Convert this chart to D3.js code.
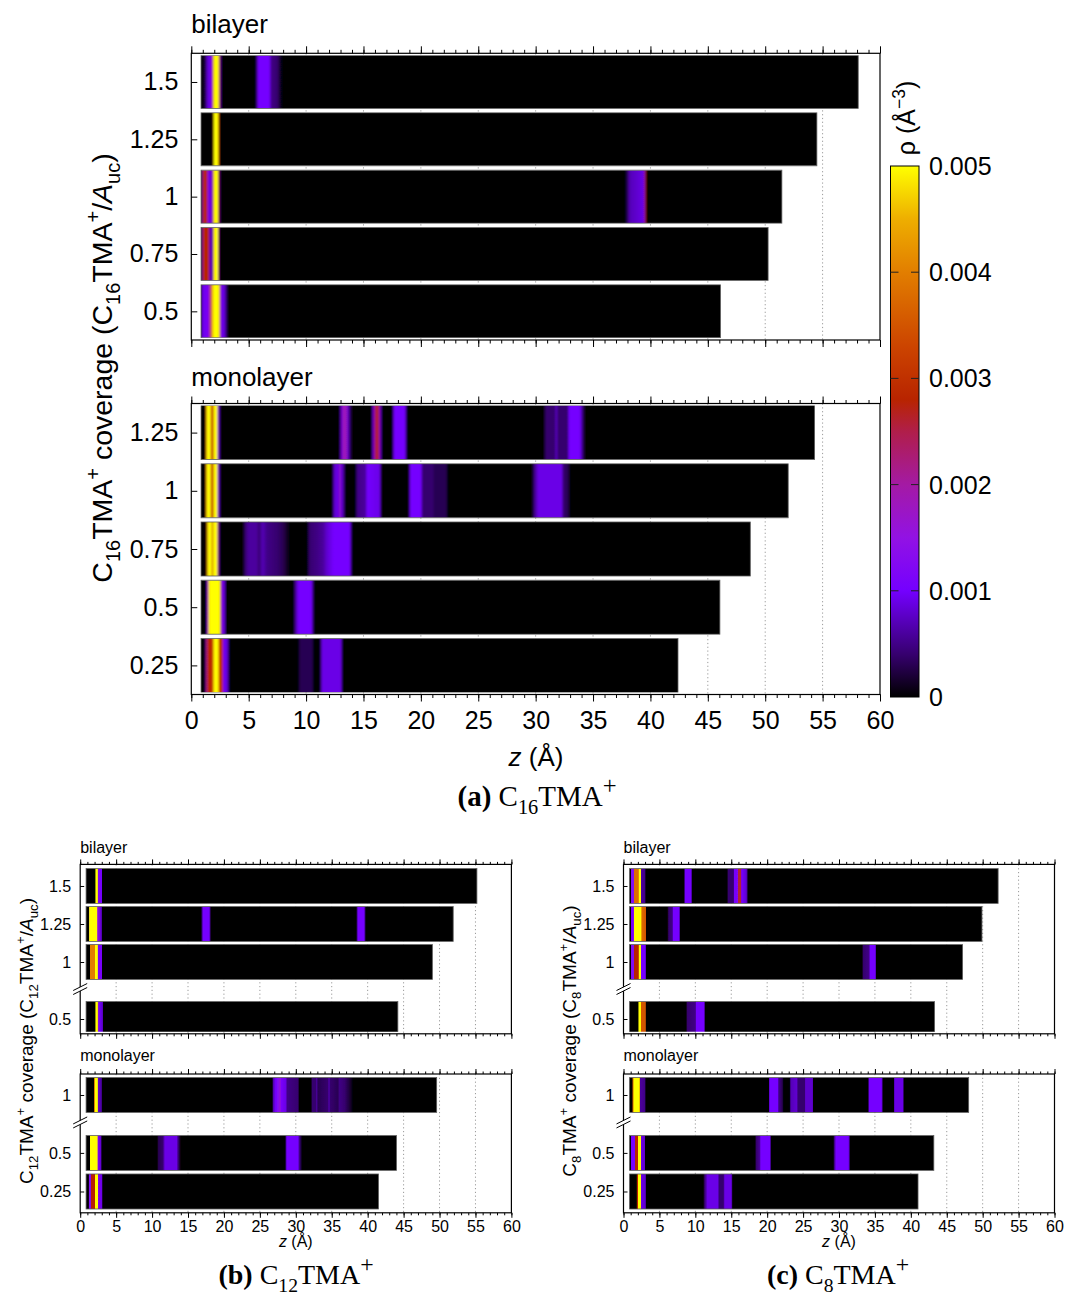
<!DOCTYPE html>
<html>
<head>
<meta charset="utf-8">
<script src="https://cdn.jsdelivr.net/npm/d3@7"></script>
<style>
  body { margin: 0; background: #fff; }
  svg { display: block; }
  text { font-family: "Liberation Sans", Arial, sans-serif; white-space: pre; }
</style>
</head>
<body>
<script>
// ---- data: density profiles rho(z), read as [z (Å), rho (Å^-3)] control points ----
const zTicks = [0, 5, 10, 15, 20, 25, 30, 35, 40, 45, 50, 55, 60];
const rhoTicks = [0, 0.001, 0.002, 0.003, 0.004, 0.005];

// C16TMA+ bilayer
const c16BiCov = ["1.5", "1.25", "1", "0.75", "0.5"];
const c16BiEnd = [58.1, 54.5, 51.45, 50.25, 46.1];
const c16BiProf = [
  [[0.85,0],[1.2,0.0002],[1.4,0.0008],[1.75,0.001],[1.9,0.003],[1.97,0.005],[2.35,0.005],[2.42,0.003],[2.5,0.001],[2.6,0],
   [5.6,0],[5.85,0.001],[6.8,0.001],[6.95,0.0005],[7.5,0.0004],[7.9,0]],
  [[0.85,0],[1.9,0],[1.97,0.004],[2.02,0.005],[2.32,0.005],[2.38,0.003],[2.45,0]],
  [[0.85,0],[0.95,0.0008],[1.05,0.0028],[1.35,0.0028],[1.45,0.0012],[1.8,0.0008],[1.95,0.004],[2.0,0.005],[2.3,0.005],[2.35,0.003],[2.42,0.0008],[2.5,0],
   [37.8,0],[38.2,0.0007],[39.4,0.0009],[39.55,0.0026],[39.65,0]],
  [[0.85,0],[0.95,0.0008],[1.05,0.0028],[1.5,0.0028],[1.6,0.0008],[1.85,0.0006],[1.95,0.004],[2.0,0.005],[2.3,0.005],[2.35,0.002],[2.45,0]],
  [[0.85,0],[0.95,0.0009],[1.45,0.0011],[1.6,0.002],[1.8,0.004],[1.95,0.005],[2.4,0.005],[2.5,0.0025],[2.6,0.001],[2.9,0.0008],[3.2,0]]
];

// C16TMA+ monolayer
const c16MonoCov = ["1.25", "1", "0.75", "0.5", "0.25"];
const c16MonoEnd = [54.3, 52.0, 48.7, 46.05, 42.4];
const c16MonoProf = [
  [[0.85,0],[1.25,0],[1.32,0.004],[1.36,0.005],[1.66,0.005],[1.72,0.003],[1.9,0.0028],[1.96,0.005],[2.26,0.005],[2.3,0.0012],[2.42,0.0008],[2.5,0],
   [12.9,0],[13.05,0.0008],[13.25,0.0018],[13.5,0.0018],[13.65,0.0008],[13.85,0.0003],[14.0,0],
   [15.7,0],[15.85,0.0009],[16.05,0.0025],[16.3,0.0026],[16.45,0.001],[16.6,0],
   [17.5,0],[17.7,0.001],[18.6,0.001],[18.8,0],
   [30.7,0],[30.9,0.0004],[31.7,0.0004],[31.8,0.0009],[31.9,0.0004],[32.8,0.0004],[32.9,0.001],[33.85,0.001],[34.3,0]],
  [[0.85,0],[1.25,0],[1.32,0.004],[1.36,0.005],[1.66,0.005],[1.72,0.003],[1.9,0.0028],[1.96,0.005],[2.26,0.005],[2.3,0.0012],[2.42,0.0008],[2.5,0],
   [12.3,0],[12.45,0.0008],[12.85,0.0009],[12.95,0.0019],[13.05,0.0009],[13.25,0.0006],[13.4,0],
   [14.3,0],[14.45,0.0005],[15.2,0.0006],[15.3,0.001],[16.4,0.0009],[16.55,0],
   [18.95,0],[19.1,0.001],[20.0,0.001],[20.15,0.0004],[21.05,0.0004],[21.15,0.0003],[22.2,0.0003],[22.35,0],
   [29.7,0],[29.9,0.0005],[30.25,0.0009],[32.25,0.0009],[32.4,0.0004],[32.8,0.0003],[33.0,0]],
  [[0.85,0],[1.3,0],[1.38,0.003],[1.45,0.005],[1.75,0.005],[1.8,0.003],[1.88,0.003],[1.94,0.005],[2.25,0.005],[2.3,0.002],[2.4,0.0006],[2.5,0],
   [4.5,0],[4.7,0.0004],[5.0,0.0006],[5.7,0.0006],[5.9,0.0004],[6.2,0.0007],[6.6,0.0005],[7.5,0.0004],[8.0,0.0003],[8.6,0],
   [10.1,0],[10.3,0.0004],[11.0,0.0005],[11.5,0.0006],[11.8,0.0008],[12.4,0.001],[13.8,0.001],[14.0,0]],
  [[0.85,0],[1.3,0],[1.4,0.001],[1.5,0.004],[1.57,0.005],[2.5,0.005],[2.55,0.003],[2.65,0.0012],[2.9,0.0008],[3.0,0],
   [8.9,0],[9.1,0.0006],[9.35,0.001],[10.45,0.001],[10.7,0]],
  [[0.85,0],[1.2,0],[1.3,0.0015],[1.38,0.0028],[1.9,0.0029],[1.96,0.005],[2.35,0.005],[2.4,0.003],[2.72,0.0028],[2.78,0.001],[3.15,0.0008],[3.3,0],
   [9.3,0],[9.5,0.0003],[10.5,0.0003],[10.7,0],[11.2,0],[11.4,0.0009],[13.0,0.0009],[13.2,0]]
];

// C12TMA+ bilayer
const c12BiCov = ["1.5", "1.25", "1", "0.5"];
const c12BiEnd = [55.2, 51.9, 49.0, 44.2];
const c12BiProf = [
  [[0.82,0],[2.1,0],[2.15,0.005],[2.4,0.005],[2.45,0.0012],[3.0,0.001],[3.05,0]],
  [[0.82,0],[1.2,0],[1.25,0.001],[1.3,0.005],[2.35,0.005],[2.42,0.0015],[2.95,0.0008],[3.05,0],
   [16.8,0],[17.1,0.001],[17.95,0.001],[18.2,0],[38.4,0],[38.65,0.001],[39.5,0.001],[39.75,0]],
  [[0.82,0],[1.3,0],[1.38,0.004],[2.0,0.004],[2.05,0.005],[2.4,0.005],[2.45,0.001],[3.05,0.0011],[3.1,0]],
  [[0.82,0],[2.1,0],[2.15,0.005],[2.4,0.005],[2.45,0.002],[2.6,0.001],[3.1,0.0008],[3.15,0]]
];

// C12TMA+ monolayer
const c12MonoCov = ["1", "0.5", "0.25"];
const c12MonoEnd = [49.6, 44.0, 41.5];
const c12MonoProf = [
  [[0.82,0],[1.9,0],[1.95,0.003],[2.05,0.005],[2.4,0.005],[2.45,0.0008],[2.95,0.0006],[3.05,0],
   [26.7,0],[26.9,0.0007],[27.2,0.001],[27.6,0.0013],[27.8,0.0016],[28.0,0.0011],[28.6,0.0009],[28.8,0.0005],[30.3,0.0004],[30.5,0],
   [32.1,0],[32.3,0.0004],[32.8,0.0004],[32.9,0.0006],[33.1,0.0003],[34.5,0.0004],[34.6,0.0007],[34.8,0.0004],[35.9,0.0003],[36.0,0.0005],[36.8,0.0004],[37.5,0.0002],[38.0,0]],
  [[0.82,0],[1.3,0],[1.38,0.005],[2.38,0.005],[2.45,0.0012],[2.9,0.0008],[3.0,0],
   [10.7,0],[10.9,0.0003],[11.5,0.0004],[11.8,0.0009],[13.4,0.0009],[13.6,0.0005],[14.0,0],
   [28.5,0],[28.75,0.001],[30.3,0.001],[30.5,0.0005],[30.9,0]],
  [[0.82,0],[1.15,0],[1.2,0.0012],[1.45,0.0012],[1.5,0.0028],[2.05,0.0028],[2.1,0.005],[2.42,0.005],[2.47,0.0012],[3.05,0.0009],[3.12,0]]
];

// C8TMA+ bilayer
const c8BiCov = ["1.5", "1.25", "1", "0.5"];
const c8BiEnd = [52.15, 49.9, 47.2, 43.3];
const c8BiProf = [
  [[0.85,0],[1.0,0],[1.08,0.0012],[1.4,0.0012],[1.46,0.0038],[2.08,0.0038],[2.12,0.005],[2.38,0.005],[2.42,0.0006],[3.0,0.0005],[3.1,0],
   [8.4,0],[8.6,0.001],[9.4,0.001],[9.6,0],
   [14.4,0],[14.6,0.0004],[15.3,0.0004],[15.45,0.001],[15.9,0.0012],[16.0,0.0026],[16.3,0.0026],[16.45,0.001],[17.1,0.0008],[17.35,0]],
  [[0.85,0],[1.0,0],[1.1,0.001],[1.4,0.0012],[1.46,0.005],[2.48,0.005],[2.52,0.0038],[3.1,0.0035],[3.18,0],
   [6.1,0],[6.3,0.0004],[6.8,0.0005],[6.9,0.001],[7.75,0.001],[7.9,0]],
  [[0.85,0],[1.0,0],[1.08,0.0012],[1.42,0.0012],[1.46,0.0028],[2.08,0.0028],[2.12,0.005],[2.38,0.005],[2.42,0.001],[3.05,0.001],[3.12,0],
   [33.2,0],[33.4,0.0004],[34.2,0.0005],[34.3,0.001],[35.05,0.001],[35.2,0]],
  [[0.85,0],[2.05,0],[2.12,0.005],[2.38,0.005],[2.42,0.0035],[3.05,0.0035],[3.12,0],
   [8.7,0],[8.9,0.0004],[10.0,0.0005],[10.15,0.001],[11.2,0.001],[11.4,0]]
];

// C8TMA+ monolayer
const c8MonoCov = ["1", "0.5", "0.25"];
const c8MonoEnd = [48.05, 43.2, 41.0];
const c8MonoProf = [
  [[0.85,0],[1.2,0],[1.3,0.0035],[1.46,0.005],[2.2,0.005],[2.28,0.0035],[2.35,0.0006],[3.0,0.0005],[3.1,0],
   [20.2,0],[20.35,0.001],[21.5,0.001],[21.6,0.0005],[22.1,0.0003],[22.3,0],
   [23.1,0],[23.3,0.0007],[24.1,0.0008],[24.3,0.0004],[25.2,0.0004],[25.35,0.0008],[26.3,0.0008],[26.45,0],
   [34.0,0],[34.25,0.001],[35.9,0.001],[36.15,0],
   [37.6,0],[37.75,0.0009],[38.9,0.0009],[39.05,0]],
  [[0.85,0],[1.0,0],[1.08,0.001],[1.62,0.001],[1.66,0.0028],[2.0,0.0028],[2.04,0.005],[2.38,0.005],[2.42,0.0009],[2.95,0.0008],[3.05,0],
   [18.3,0],[18.5,0.0004],[19.0,0.0006],[19.1,0.001],[20.4,0.001],[20.55,0],
   [29.2,0],[29.4,0.0006],[29.6,0.001],[31.3,0.001],[31.6,0]],
  [[0.85,0],[1.8,0],[1.85,0.0028],[2.0,0.0028],[2.04,0.005],[2.38,0.005],[2.42,0.0009],[3.05,0.0008],[3.12,0],
   [11.1,0],[11.3,0.0004],[11.7,0.0009],[13.15,0.0009],[13.3,0.0004],[13.9,0.0004],[14.1,0.0009],[15.0,0.0009],[15.2,0]]
];

// colour map (black - violet - magenta - red - orange - yellow)
const cmapRho = [0, 0.0004, 0.001, 0.0015, 0.002, 0.0025, 0.0028, 0.0033, 0.004, 0.0045, 0.005];
const cmapHex = ["#000000", "#36006e", "#7400ff", "#9212e4", "#a41aa4", "#b01e4a", "#b82400", "#cc4400", "#e27e00", "#eeae00", "#ffff00"];
const color = d3.scaleLinear().domain(cmapRho).range(cmapHex).clamp(true);

const W = 1070, H = 1295;
const svg = d3.select("body").append("svg").attr("width", W).attr("height", H);
const defs = svg.append("defs");
let uid = 0;

// horizontal soft edges for the profiles
defs.append("filter").attr("id", "blurBig").attr("x", "-2%").attr("width", "104%")
  .append("feGaussianBlur").attr("stdDeviation", "0.9 0");
defs.append("filter").attr("id", "blurSmall").attr("x", "-2%").attr("width", "104%")
  .append("feGaussianBlur").attr("stdDeviation", "0.45 0");

// rich text with sub/superscripts
function rich(text, parts, fs) {
  let shift = 0;
  parts.forEach((p) => {
    const target = p.sub ? fs * 0.28 : p.sup ? -fs * 0.42 : 0;
    const ts = text.append("tspan").attr("dy", target - shift).text(p.t);
    shift = target;
    if (p.sub || p.sup) ts.attr("font-size", fs * (p.scale || 0.7));
    if (p.it) ts.attr("font-style", "italic");
    if (p.b) ts.attr("font-weight", "bold");
  });
}

function drawPanel(cfg) {
  const g = svg.append("g");
  const x = d3.scaleLinear().domain([0, 60]).range([cfg.left, cfg.right]);

  // slots: one per row, extra half slot where the axis is broken
  let extra = 0;
  const slots = cfg.cov.map((c, i) => {
    if (cfg.breakBefore && c === cfg.breakBefore) extra = 0.5;
    return i + extra;
  });
  const y = d3.scaleLinear().domain(cfg.slotDomain).range([cfg.top, cfg.bottom]);

  // dotted grid
  g.selectAll(".grid")
    .data(zTicks.slice(1, -1))
    .enter()
    .append("line")
    .attr("x1", (d) => x(d)).attr("x2", (d) => x(d))
    .attr("y1", cfg.top).attr("y2", cfg.bottom)
    .attr("stroke", "#9a9a9a").attr("stroke-width", 1)
    .attr("stroke-dasharray", "1.2,2.6");

  // clip to frame
  const clipId = "clip" + uid++;
  defs.append("clipPath").attr("id", clipId)
    .append("rect")
    .attr("x", cfg.left).attr("y", cfg.top + 2)
    .attr("width", cfg.right - cfg.left).attr("height", cfg.bottom - cfg.top - 4);

  const bars = g.append("g").attr("clip-path", `url(#${clipId})`);
  cfg.prof.forEach((pts, i) => {
    const z0 = pts[0][0], z1 = cfg.end[i];
    const bx = x(z0), bw = x(z1) - x(z0);
    const by = y(slots[i]) - cfg.barH / 2;
    const id = "grad" + uid++;
    const lg = defs.append("linearGradient").attr("id", id)
      .attr("gradientUnits", "userSpaceOnUse")
      .attr("x1", bx).attr("x2", x(z1)).attr("y1", 0).attr("y2", 0);
    pts.concat([[z1, 0]]).forEach((p) => {
      lg.append("stop")
        .attr("offset", (p[0] - z0) / (z1 - z0))
        .attr("stop-color", color(p[1]));
    });
    const barClip = "bc" + uid++;
    defs.append("clipPath").attr("id", barClip)
      .append("rect").attr("x", bx).attr("y", by).attr("width", bw).attr("height", cfg.barH);
    bars.append("g").attr("clip-path", `url(#${barClip})`)
      .append("rect")
      .attr("x", bx - 8).attr("y", by)
      .attr("width", bw + 16).attr("height", cfg.barH)
      .attr("fill", `url(#${id})`)
      .attr("filter", `url(#${cfg.blur})`);
    bars.append("rect")
      .attr("x", bx).attr("y", by).attr("width", bw).attr("height", cfg.barH)
      .attr("fill", "none")
      .attr("stroke", "#5a5a5a")
      .attr("stroke-width", 0.8);
  });

  // frame
  g.append("rect")
    .attr("x", cfg.left).attr("y", cfg.top)
    .attr("width", cfg.right - cfg.left).attr("height", cfg.bottom - cfg.top)
    .attr("fill", "none").attr("stroke", "#000").attr("stroke-width", 1.2);

  // x ticks, outward, top and bottom
  const minor = d3.range(0, 61, 1);
  [["top", d3.axisTop, cfg.top], ["bottom", d3.axisBottom, cfg.bottom]].forEach(([side, ax, yy]) => {
    g.append("g").attr("transform", `translate(0,${yy})`)
      .call(ax(x).tickValues(minor).tickSize(cfg.minorLen).tickFormat(""))
      .call((s) => s.select(".domain").remove());
    const maj = g.append("g").attr("transform", `translate(0,${yy})`)
      .call(ax(x).tickValues(zTicks).tickSize(cfg.majorLen)
        .tickPadding(cfg.xPad)
        .tickFormat(side === "bottom" && cfg.xLabels ? d3.format("d") : ""))
      .call((s) => s.select(".domain").remove());
    maj.selectAll("text").attr("font-size", cfg.fs).attr("font-family", "Liberation Sans, Arial, sans-serif").attr("fill", "#000");
  });
  g.selectAll(".tick line").attr("stroke", "#000");

  // y ticks, inward
  const yAxis = g.append("g").attr("transform", `translate(${cfg.left},0)`)
    .call(d3.axisLeft(y).tickValues(slots).tickSize(-cfg.yTick)
      .tickPadding(cfg.yPad).tickFormat((d, i) => cfg.cov[i]))
    .call((s) => s.select(".domain").remove());
  yAxis.selectAll("text").attr("font-size", cfg.fs).attr("font-family", "Liberation Sans, Arial, sans-serif").attr("fill", "#000");
  yAxis.selectAll("line").attr("stroke", "#000");

  // axis break marks
  if (cfg.breakBefore) {
    const yb = y(cfg.breakSlot), xb = cfg.left, d = cfg.breakSize;
    g.append("polygon")
      .attr("points", `${xb - d},${yb} ${xb + d},${yb - d} ${xb + d},${yb - d + 4} ${xb - d},${yb + 4}`)
      .attr("fill", "#fff");
    [0, 4].forEach((o) => {
      g.append("line")
        .attr("x1", xb - d).attr("y1", yb + o)
        .attr("x2", xb + d).attr("y2", yb - d + o)
        .attr("stroke", "#000").attr("stroke-width", 1);
    });
  }

  // panel title
  g.append("text").attr("x", cfg.left).attr("y", cfg.titleY)
    .attr("font-size", cfg.titleFs).text(cfg.title);
  return { x, y };
}

// ---- (a) C16TMA+ ----
const bigStyle = { fs: 25, titleFs: 26, majorLen: 7, minorLen: 3.5, xPad: 10, yTick: 6, yPad: 13, left: 191.3, right: 880, blur: "blurBig" };
drawPanel(Object.assign({}, bigStyle, {
  top: 53.3, bottom: 340, slotDomain: [-0.5, 4.5], barH: 53,
  cov: c16BiCov, end: c16BiEnd, prof: c16BiProf, xLabels: false,
  title: "bilayer", titleY: 33
}));
drawPanel(Object.assign({}, bigStyle, {
  top: 403.5, bottom: 694.5, slotDomain: [-0.5, 4.5], barH: 54,
  cov: c16MonoCov, end: c16MonoEnd, prof: c16MonoProf, xLabels: true,
  title: "monolayer", titleY: 386
}));

// y label (a)
const ya = svg.append("text")
  .attr("transform", "translate(112,368) rotate(-90)")
  .attr("text-anchor", "middle").attr("font-size", 28.5);
rich(ya, [{ t: "C" }, { t: "16", sub: true }, { t: "TMA" }, { t: "+", sup: true }, { t: " coverage (C" },
  { t: "16", sub: true }, { t: "TMA" }, { t: "+", sup: true }, { t: "/" }, { t: "A", it: true }, { t: "uc", sub: true }, { t: ")" }], 28.5);

// x label (a)
const xa = svg.append("text").attr("x", 536).attr("y", 766).attr("text-anchor", "middle").attr("font-size", 26);
rich(xa, [{ t: "z", it: true }, { t: " (Å)" }], 26);

// colour bar
const cb = { x: 890.5, w: 28.5, top: 166, bottom: 697 };
const cy = d3.scaleLinear().domain([0, 0.005]).range([cb.bottom, cb.top]);
const cbGrad = defs.append("linearGradient").attr("id", "cbar")
  .attr("x1", 0).attr("y1", 1).attr("x2", 0).attr("y2", 0);
cmapRho.forEach((r, i) => {
  cbGrad.append("stop").attr("offset", r / 0.005).attr("stop-color", cmapHex[i]);
});
svg.append("rect").attr("x", cb.x).attr("y", cb.top).attr("width", cb.w)
  .attr("height", cb.bottom - cb.top).attr("fill", "url(#cbar)")
  .attr("stroke", "#000").attr("stroke-width", 1);
svg.selectAll(".cbtick")
  .data(rhoTicks.slice(1, -1))
  .enter()
  .append("g")
  .each(function (d) {
    const s = d3.select(this);
    s.append("line").attr("x1", cb.x).attr("x2", cb.x + 8).attr("y1", cy(d)).attr("y2", cy(d)).attr("stroke", "#222");
    s.append("line").attr("x1", cb.x + cb.w - 8).attr("x2", cb.x + cb.w).attr("y1", cy(d)).attr("y2", cy(d)).attr("stroke", "#222");
  });
svg.selectAll(".cblab")
  .data(rhoTicks)
  .enter()
  .append("text")
  .attr("x", 929).attr("y", (d) => cy(d)).attr("dy", "0.36em")
  .attr("font-size", 25)
  .text((d) => (d === 0 ? "0" : d3.format(".3f")(d)));
const cl = svg.append("text").attr("transform", "translate(915,118) rotate(-90)")
  .attr("text-anchor", "middle").attr("font-size", 25);
rich(cl, [{ t: "ρ (Å" }, { t: "−3", sup: true }, { t: ")" }], 25);

// caption (a)
const capA = svg.append("text").attr("x", 537).attr("y", 806).attr("text-anchor", "middle")
  .attr("font-size", 29).style("font-family", "Liberation Serif, Times New Roman, serif");
rich(capA, [{ t: "(a)", b: true }, { t: " C" }, { t: "16", sub: true }, { t: "TMA" }, { t: "+", sup: true, scale: 0.85 }], 29);

// ---- (b) C12TMA+ and (c) C8TMA+ ----
const smallStyle = { fs: 16, titleFs: 16, majorLen: 5, minorLen: 2.5, xPad: 3, yTick: 4, yPad: 9, barH: 35, breakBefore: "0.5", breakSize: 7, blur: "blurSmall" };
const small = [
  { left: 80.2, right: 511.4, bi: [c12BiCov, c12BiEnd, c12BiProf], mono: [c12MonoCov, c12MonoEnd, c12MonoProf], sub: "12", tag: "(b)", cx: 296, lx: 33 },
  { left: 623.5, right: 1054.5, bi: [c8BiCov, c8BiEnd, c8BiProf], mono: [c8MonoCov, c8MonoEnd, c8MonoProf], sub: "8", tag: "(c)", cx: 838, lx: 576 }
];
small.forEach((p) => {
  drawPanel(Object.assign({}, smallStyle, {
    left: p.left, right: p.right, top: 864.4, bottom: 1033.8, slotDomain: [-0.568, 3.889],
    cov: p.bi[0], end: p.bi[1], prof: p.bi[2], xLabels: false, breakSlot: 2.75,
    title: "bilayer", titleY: 853
  }));
  drawPanel(Object.assign({}, smallStyle, {
    left: p.left, right: p.right, top: 1074, bottom: 1212.8, slotDomain: [-0.544, 3.052],
    cov: p.mono[0], end: p.mono[1], prof: p.mono[2], xLabels: true, breakSlot: 0.75,
    title: "monolayer", titleY: 1061
  }));
  const yl = svg.append("text").attr("transform", `translate(${p.lx},1041) rotate(-90)`)
    .attr("text-anchor", "middle").attr("font-size", 19);
  rich(yl, [{ t: "C" }, { t: p.sub, sub: true }, { t: "TMA" }, { t: "+", sup: true }, { t: " coverage (C" },
    { t: p.sub, sub: true }, { t: "TMA" }, { t: "+", sup: true }, { t: "/" }, { t: "A", it: true }, { t: "uc", sub: true }, { t: ")" }], 19);
  const xl = svg.append("text").attr("x", (p.left + p.right) / 2).attr("y", 1247)
    .attr("text-anchor", "middle").attr("font-size", 16);
  rich(xl, [{ t: "z", it: true }, { t: " (Å)" }], 16);
  const cap = svg.append("text").attr("x", p.cx).attr("y", 1284).attr("text-anchor", "middle")
    .attr("font-size", 28).style("font-family", "Liberation Serif, Times New Roman, serif");
  rich(cap, [{ t: p.tag, b: true }, { t: " C" }, { t: p.sub, sub: true }, { t: "TMA" }, { t: "+", sup: true, scale: 0.85 }], 28);
});
</script>
</body>
</html>
